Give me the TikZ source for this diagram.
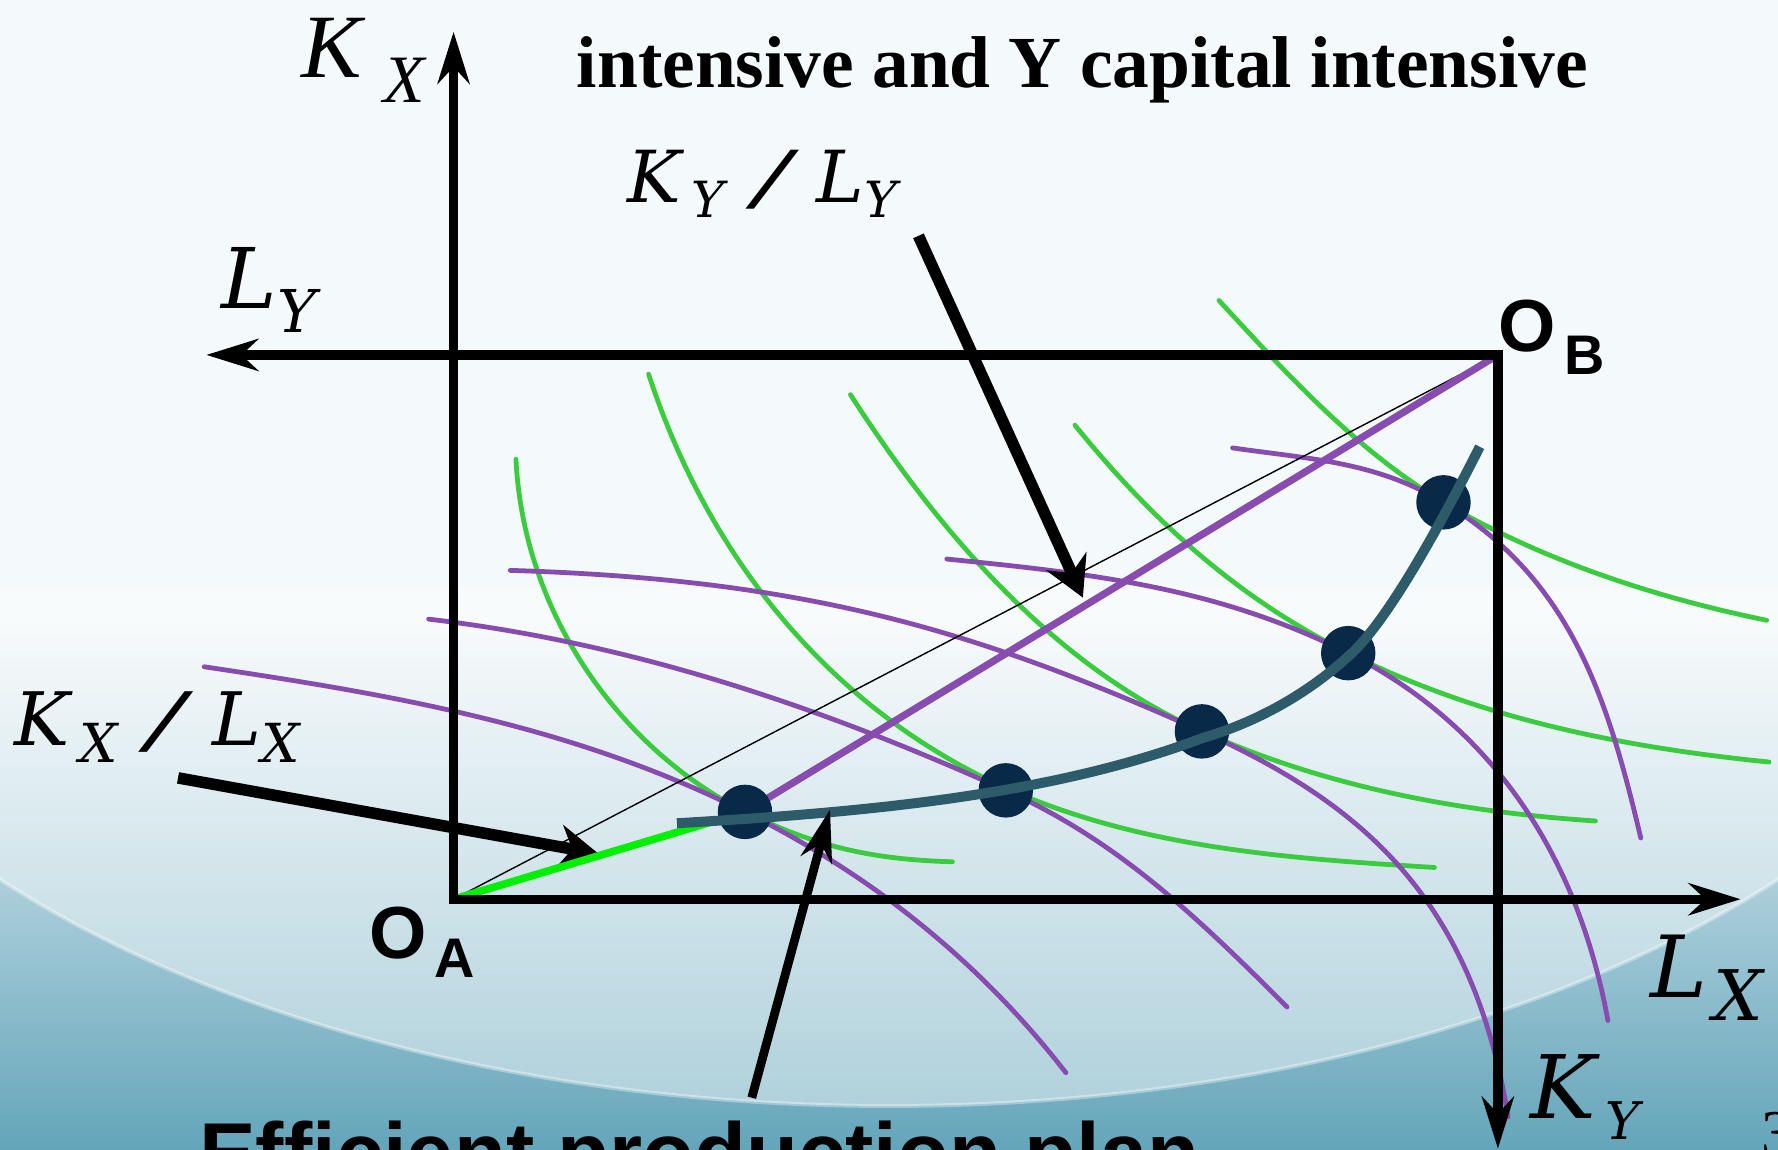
\documentclass[tikz,border=0pt]{standalone}
\usepackage{fontspec}
\setmainfont{Liberation Serif}
\setsansfont{Liberation Sans}
\newfontfamily\ratiofont{DejaVu Serif Italic}
\usepackage{tikz}
\usetikzlibrary{arrows.meta, positioning}
\definecolor{bgtop}{RGB}{244,249,251}
\definecolor{bgbot}{RGB}{100,165,186}
\definecolor{isoX}{RGB}{58,204,62}
\definecolor{isoY}{RGB}{136,76,176}
\definecolor{rayX}{RGB}{0,240,0}
\definecolor{contract}{RGB}{45,91,106}
\definecolor{dotblue}{RGB}{8,42,72}

\begin{document}
\begin{tikzpicture}[x=0.01cm, y=-0.01cm,
    axis/.style={line width=2.3pt, {Stealth[length=13pt, width=8pt]}-{Stealth[length=13pt, width=8pt]}},
    pointer/.style={line width=2.9pt, -{Stealth[length=10pt, width=11pt]}},
    thinpointer/.style={line width=2.2pt, -{Stealth[length=13pt, width=8pt]}},
    isoA/.style={isoX, line width=1.2pt, line cap=round},
    isoB/.style={isoY, line width=1.2pt, line cap=round},
    dot/.style={circle, fill=dotblue, minimum size=0.48cm, inner sep=0pt},
    lbl/.style={inner sep=0pt, anchor=base west}
]
    \useasboundingbox (0,0) rectangle (1568,1014);
    \clip (0,0) rectangle (1568,1014);

    % Background
    \fill[bgtop] (0,0) rectangle (1568,1014);
    \shade[top color=bgtop, bottom color=bgbot] (0,540) rectangle (1568,1014);
    \begin{scope}
        \clip (0,520) rectangle (1568,1014);
        \fill[white, opacity=.45] (784,420) ellipse [x radius=10.2cm, y radius=5.55cm];
    \end{scope}
    \draw[white, opacity=.35, line width=1pt] (784,420) ++(-10.2cm,0) arc[start angle=180, end angle=360, x radius=10.2cm, y radius=5.55cm];

    % Points
    \coordinate (oa) at (400,793);
    \coordinate (ob) at (1321,313);
    \coordinate (kxend) at (400,28);
    \coordinate (lxend) at (1535,793);
    \coordinate (lyend) at (182,313);
    \coordinate (kyend) at (1321,1013);
    \coordinate (e1) at (657,716);
    \coordinate (e2) at (887,697);
    \coordinate (e3) at (1060,645);
    \coordinate (e4) at (1189,576);
    \coordinate (e5) at (1273,443);

    % Isoquants of X
    \draw[isoA] (455,405) .. controls (462,545) and (550,662) .. (e1) .. controls (720,747) and (770,758) .. (840,760);
    \draw[isoA] (572,330) .. controls (625,492) and (732,625) .. (887,695) .. controls (1006,748) and (1135,757) .. (1265,765);
    \draw[isoA] (750,348) .. controls (831,474) and (932,588) .. (e3) .. controls (1169,694) and (1287,716) .. (1407,724);
    \draw[isoA] (948,375) .. controls (1017,460) and (1091,527) .. (e4) .. controls (1305,634) and (1431,659) .. (1560,672);
    \draw[isoA] (1075,265) .. controls (1136,331) and (1196,397) .. (e5) .. controls (1359,494) and (1460,527) .. (1558,547);

    % Isoquants of Y
    \draw[isoB] (180,588) .. controls (348,613) and (505,640) .. (e1) .. controls (769,772) and (863,847) .. (940,946);
    \draw[isoB] (378,546) .. controls (557,567) and (723,623) .. (e2) .. controls (987,742) and (1057,810) .. (1135,888);
    \draw[isoB] (450,503) .. controls (710,511) and (859,555) .. (e3) .. controls (1197,707) and (1298,788) .. (1330,985);
    \draw[isoB] (835,493) .. controls (964,506) and (1073,518) .. (e4) .. controls (1314,639) and (1391,752) .. (1418,900);
    \draw[isoB] (1087,395) .. controls (1156,405) and (1213,407) .. (e5) .. controls (1384,510) and (1417,612) .. (1447,739);

    % Rays
    \draw[line width=0.35pt] (oa) -- (ob);
    \draw[pointer] (157,686) coordinate (kxr) -- (528,753) coordinate (kxrtip);
    \draw[isoY, line width=1.8pt] (e1) -- (ob);
    \draw[rayX, line width=1.9pt] (oa) -- (e1);

    % Box of axes
    \draw[axis] (kxend) |- (lxend);
    \draw[axis] (lyend) -| (kyend);

    % Efficient points and contract curve
    \foreach \p in {1,...,5}
        \node[dot] (d\p) at (e\p) {};
    \draw[contract, line width=2.5pt] (597,726) .. controls (747,717) and (920,704) .. (1060,651)
        .. controls (1108,637) and (1153,612) .. (1190,578)
        .. controls (1227,545) and (1278,447) .. (1305,394);

    % Pointers
    \draw[thinpointer] (663,968) coordinate (plr) -- (732,714) coordinate (plrtip);
    \draw[pointer] (810,208) coordinate (kyr) -- (955,527) coordinate (kyrtip);

    % Labels
    \node[lbl, font=\fontsize{22.7}{24}\selectfont\itshape] (kxlab) at (265,68) {K\hspace{5.5pt}\raisebox{-6.3pt}{\fontsize{17}{17}\selectfont X}};
    \node[lbl, font=\fontsize{21}{22}\selectfont\ratiofont] (lylab) at (195,272) {L\raisebox{-6pt}{\fontsize{14.8}{15}\selectfont Y}};
    \node[lbl, font=\fontsize{21.5}{22}\selectfont\ratiofont] (lxlab) at (1455,880) {L\hspace{1.5pt}\raisebox{-5.7pt}{\fontsize{17.5}{18}\selectfont X}};
    \node[lbl, font=\fontsize{22}{22}\selectfont\ratiofont] (kylab) at (1349,986) {K\hspace{2.5pt}\raisebox{-5.4pt}{\fontsize{13}{13}\selectfont Y}};
    \node[lbl, font=\sffamily\bfseries\fontsize{18.5}{19}\selectfont] (oblab) at (1321,310) {O\hspace{2pt}\raisebox{-5.7pt}{\fontsize{14}{14}\selectfont B}};
    \node[lbl, font=\sffamily\bfseries\fontsize{18.5}{19}\selectfont] (oalab) at (325,845) {O\hspace{2pt}\raisebox{-4.8pt}{\fontsize{14}{14}\selectfont A}};
    \node[lbl, font=\fontsize{18}{18}\selectfont\ratiofont] (kyrlab) at (553,179) {K\hspace{2.5pt}\raisebox{-3.7pt}{\fontsize{12.5}{13}\selectfont Y}\hspace{7.5pt}\scalebox{1.5}[1]{/}\hspace{6.5pt}L\raisebox{-3.7pt}{\fontsize{12.5}{13}\selectfont Y}};
    \node[lbl, font=\fontsize{18.5}{19}\selectfont\ratiofont] (kxrlab) at (12,657) {K\hspace{2.5pt}\raisebox{-4.3pt}{\fontsize{13.5}{14}\selectfont X}\hspace{7.5pt}\scalebox{1.5}[1]{/}\hspace{7pt}L\raisebox{-4.3pt}{\fontsize{13.5}{14}\selectfont X}};
    \node[lbl, font=\bfseries\fontsize{18.4}{20}\selectfont] (title) at (508,77) {intensive and Y capital intensive};
    \node[lbl, font=\sffamily\bfseries\fontsize{21.3}{23}\selectfont] (plan) at (175,1043) {Efficient production plan};
    \node[lbl, font=\fontsize{16}{16}\selectfont] (pageno) at (1553,1018) {3};
\end{tikzpicture}
\end{document}
